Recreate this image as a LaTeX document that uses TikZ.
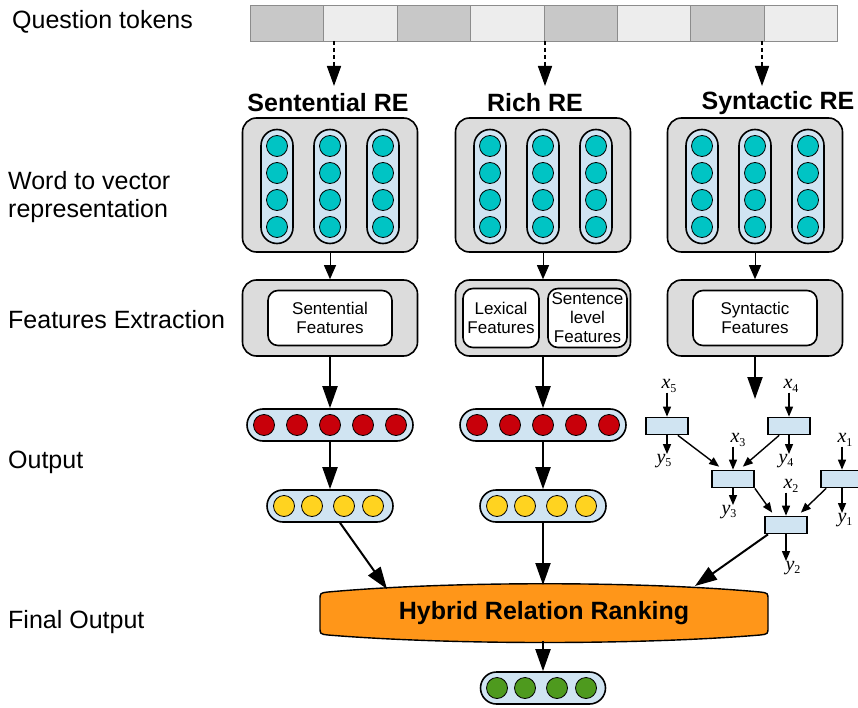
\documentclass[tikz,border=0pt]{standalone}
\usepackage{fontspec}
\setmainfont{Liberation Sans}
\newfontfamily\tms{Liberation Serif}
\usetikzlibrary{arrows.meta}
\definecolor{tokdark}{HTML}{C8C8C8}
\definecolor{toklight}{HTML}{EDEDED}
\definecolor{blockgray}{HTML}{DCDCDC}
\definecolor{capblue}{HTML}{D0E4F2}
\definecolor{cteal}{HTML}{00C4C4}
\definecolor{cred}{HTML}{C8000A}
\definecolor{cyellow}{HTML}{FFD320}
\definecolor{cgreen}{HTML}{4E9A1E}
\definecolor{horange}{HTML}{FF9619}
% tree variable: italic letter with an upright index
\newcommand{\tvar}[2]{{\tms\itshape #1}\raisebox{-3.5pt}{\tms\fontsize{12}{12}\selectfont #2}}
\begin{document}
\begin{tikzpicture}[x=1pt,y=-1pt,
  lbl/.style={anchor=west, font=\fontsize{25}{28}\selectfont, align=left, inner sep=0},
  ttl/.style={font=\fontsize{25}{28}\selectfont\bfseries, inner sep=0},
  tok/.style={draw=black!45, line width=0.8pt, minimum width=73.4pt, minimum height=36pt, inner sep=0, anchor=north west},
  blk/.style={draw, line width=1.6pt, fill=blockgray, rounded corners=14pt, minimum width=175pt, inner sep=0},
  vcap/.style={draw, line width=1.6pt, fill=capblue, rounded corners=16pt, minimum width=32pt, minimum height=114pt, inner sep=0},
  hcap/.style={draw, line width=1.6pt, fill=capblue, rounded corners=16pt, minimum height=32pt, inner sep=0},
  dot/.style={circle, draw, line width=0.8pt, minimum size=21pt, inner sep=0},
  feat/.style={draw, line width=1.6pt, fill=white, rounded corners=10pt, inner sep=0, align=center, font=\fontsize{17}{19}\selectfont},
  cell/.style={draw, line width=1.7pt, fill=capblue, minimum width=42pt, minimum height=17pt, inner sep=0},
  var/.style={font=\fontsize{20}{20}\selectfont, inner sep=0},
  thinarrow/.style={line width=1pt, -{Triangle[length=14pt,width=12pt]}},
  thickarrow/.style={line width=2pt, -{Triangle[length=22pt,width=15pt]}},
  dasharrow/.style={line width=1.6pt, dash pattern=on 4pt off 3pt, -{Triangle[length=20pt,width=14pt]}},
  smallarrow/.style={line width=1.4pt, -{Triangle[length=10pt,width=8pt]}}]
\useasboundingbox (0,0) rectangle (858,708);
\clip (0,0) rectangle (858,708);

% row labels
\node[lbl] (lq) at (12,22) {Question tokens};
\node[lbl] (lw) at (8,197) {Word to vector\\representation};
\node[lbl] (lf) at (8,320) {Features Extraction};
\node[lbl] (lo) at (8,462) {Output};
\node[lbl] (lfo) at (8,622) {Final Output};

% question tokens
\foreach \i in {0,...,7} {
  \pgfmathsetmacro{\tx}{250+\i*73.375}
  \ifodd\i
    \node[tok, fill=toklight] (tok\i) at (\tx,5) {};
  \else
    \node[tok, fill=tokdark] (tok\i) at (\tx,5) {};
  \fi
}

% branch titles
\node[ttl] (ts) at (328,103) {Sentential RE};
\node[ttl] (tr) at (535,103) {Rich RE};
\node[ttl] (ty) at (778,103) {Syntactic RE};

\coordinate (d1a) at (334,41); \coordinate (d1b) at (334,86);
\coordinate (d2a) at (545,41); \coordinate (d2b) at (545,86);
\coordinate (d3a) at (762,41); \coordinate (d3b) at (762,86);
\draw[dasharrow] (d1a) -- (d1b);
\draw[dasharrow] (d2a) -- (d2b);
\draw[dasharrow] (d3a) -- (d3b);

% word to vector blocks
\foreach \c/\cx in {s/330, r/543, y/755} {
  \node[blk, minimum height=134pt] (w\c) at (\cx,185) {};
  \foreach \k/\dx in {1/-53, 2/0, 3/53} {
    \node[vcap] (v\c\k) at (\cx+\dx,186.5) {};
    \foreach \j/\cy in {1/146, 2/173, 3/200, 4/227}
      \node[dot, fill=cteal] (v\c\k\j) at (\cx+\dx,\cy) {};
  }
  \node[blk, minimum height=76pt] (f\c) at (\cx,318) {};
  \draw[thinarrow] (w\c.south) -- (f\c.north);
}

% feature boxes
\node[feat, minimum width=124pt, minimum height=55pt] (fsi) at (330,318) {Sentential\\Features};
\node[feat, minimum width=76pt, minimum height=59pt] (fr1) at (501,318) {Lexical\\Features};
\node[feat, minimum width=79pt, minimum height=59pt] (fr2) at (587.5,318) {Sentence\\level\\Features};
\node[feat, minimum width=124pt, minimum height=55pt] (fyi) at (755,318) {Syntactic\\Features};

% output vectors of the two sequential branches
\foreach \c/\cx in {s/330, r/543} {
  \node[hcap, minimum width=166pt] (o\c) at (\cx,425) {};
  \foreach \j/\dx in {1/-66, 2/-33, 3/0, 4/33, 5/66}
    \node[dot, fill=cred] (o\c\j) at (\cx+\dx,425) {};
  \node[hcap, minimum width=126pt] (p\c) at (\cx,506) {};
  \foreach \j/\dx in {1/-46, 2/-18, 3/14, 4/43}
    \node[dot, fill=cyellow] (p\c\j) at (\cx+\dx,506) {};
  \draw[thickarrow] (f\c.south) -- (o\c.north);
  \draw[thickarrow] (o\c.south) -- (p\c.north);
}

% tree structured network of the syntactic branch
\coordinate (synend) at (755,399);
\draw[thickarrow] (fy.south) -- (synend);

\node[cell] (c5) at (667,426) {};
\node[cell] (c4) at (789,426) {};
\node[cell] (c3) at (733,479) {};
\node[cell] (c1) at (842,479) {};
\node[cell] (c2) at (786,525) {};

\node[var] (x5) at (669,386) {\tvar{x}{5}};
\node[var] (y5) at (664,461) {\tvar{y}{5}};
\node[var] (x4) at (791,386) {\tvar{x}{4}};
\node[var] (y4) at (786,461) {\tvar{y}{4}};
\node[var] (x3) at (738,440) {\tvar{x}{3}};
\node[var] (y3) at (729,512) {\tvar{y}{3}};
\node[var] (x1) at (845,440) {\tvar{x}{1}};
\node[var] (y1) at (845,520) {\tvar{y}{1}};
\node[var] (x2) at (791,486) {\tvar{x}{2}};
\node[var] (y2) at (793,568) {\tvar{y}{2}};

\foreach \n in {5,4,3,1,2} {
  \draw[smallarrow] (c\n |- x\n.south) -- (c\n.north);
  \draw[smallarrow] (c\n.south) -- (c\n |- y\n.north);
}
\draw[smallarrow] ([xshift=-11pt]c5.south east) -- ([xshift=8pt,yshift=3pt]c3.north west);
\draw[smallarrow] ([xshift=12pt]c4.south west) -- ([xshift=-12pt,yshift=3pt]c3.north east);
\draw[smallarrow] (c3.south east) -- ([xshift=8pt,yshift=3pt]c2.north west);
\draw[smallarrow] ([xshift=6pt]c1.south west) -- ([xshift=-7pt,yshift=3pt]c2.north east);

% ranking stage
\draw[line width=1.4pt, fill=horange]
  (328,592) .. controls (450,581) and (640,581) .. (760,592)
  .. controls (768,593) .. (768,600) -- (768,627)
  .. controls (768,634) .. (760,635)
  .. controls (640,645) and (450,645) .. (328,635)
  .. controls (320,634) .. (320,627) -- (320,600)
  .. controls (320,593) .. (328,592) -- cycle;
\node[font=\fontsize{25}{28}\selectfont\bfseries, inner sep=0] (hyb) at (544,613) {Hybrid Relation Ranking};
\coordinate (hs) at (387,589);
\coordinate (hr) at (543,585);
\coordinate (hy) at (695,586);
\coordinate (hb) at (543,641);
\draw[thickarrow] ([xshift=10pt]ps.south) -- (hs);
\draw[thickarrow] (pr.south) -- (hr);
\draw[thickarrow] ([xshift=-18pt]c2.south) -- (hy);

\node[hcap, minimum width=125pt] (g) at (543,688) {};
\foreach \j/\dx in {1/-46, 2/-18, 3/14, 4/43}
  \node[dot, fill=cgreen] (g\j) at (543+\dx,688) {};
\draw[thickarrow] (hb) -- (g.north);
\end{tikzpicture}
\end{document}
